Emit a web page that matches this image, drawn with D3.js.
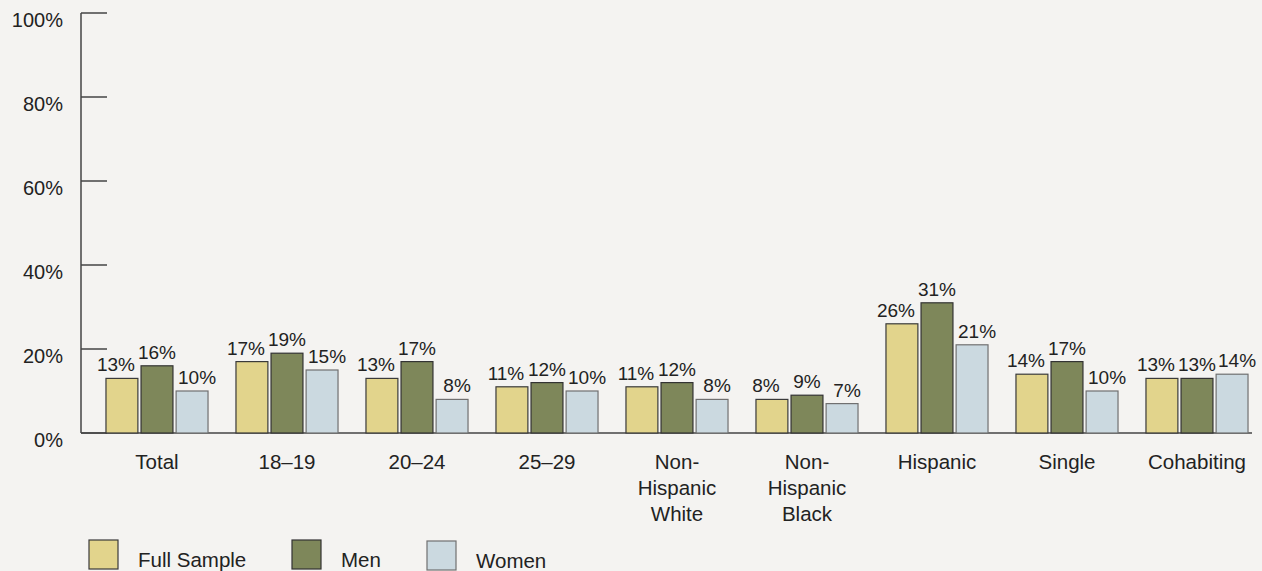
<!DOCTYPE html>
<html><head><meta charset="utf-8">
<script src="https://cdn.jsdelivr.net/npm/d3@7"></script>
<style>html,body{margin:0;padding:0;background:#f4f3f1;}svg{display:block;font-family:"Liberation Sans",Arial,Helvetica,sans-serif;}</style>
</head><body>
<script>
const categories = [["Total"],["18–19"],["20–24"],["25–29"],["Non-","Hispanic","White"],["Non-","Hispanic","Black"],["Hispanic"],["Single"],["Cohabiting"]];
const seriesNames = ["Full Sample","Men","Women"];
const fullSample = [13,17,13,11,11,8,26,14,13];
const men = [16,19,17,12,12,9,31,17,13];
const women = [10,15,8,10,8,7,21,10,14];
const yTicks = [0,20,40,60,80,100];
const colors = ["#e2d48c","#7e875a","#cbd9e0"];
const strokes = ["#3a3a3a","#333333","#707070"];

const W=1262,H=571;
const svg=d3.select("body").append("svg").attr("width",W).attr("height",H);
svg.append("rect").attr("width",W).attr("height",H).attr("fill","#f4f3f1");
const axisX=81;
const y=d3.scaleLinear().domain([0,100]).range([433,13]);
const x0=d3.scaleBand().domain(d3.range(categories.length)).range([92,1262]).paddingInner(0.215).paddingOuter(0.1075);
const x1=d3.scaleBand().domain(d3.range(3)).range([0,x0.bandwidth()]).paddingInner(0.09).paddingOuter(0);
const series=[fullSample,men,women];
const labelShift=[-6,0,5];

// y axis
svg.append("line").attr("x1",axisX).attr("x2",axisX).attr("y1",y(100)).attr("y2",y(0)).attr("stroke","#444").attr("stroke-width",1.5);
svg.append("line").attr("x1",axisX).attr("x2",1252).attr("y1",y(0)).attr("y2",y(0)).attr("stroke","#444").attr("stroke-width",1.5);
const tk=svg.append("g").selectAll("g").data(yTicks).join("g");
tk.append("line").attr("x1",axisX).attr("x2",axisX+26).attr("y1",d=>y(d)).attr("y2",d=>y(d)).attr("stroke","#444").attr("stroke-width",1.5);
tk.append("text").attr("x",63).attr("y",d=>y(d)+14).attr("text-anchor","end").attr("font-size",20).attr("fill","#222").text(d=>d+"%");

// bars
const g=svg.append("g").selectAll("g").data(categories.map((c,i)=>i)).join("g").attr("transform",i=>`translate(${x0(i)},0)`);
g.selectAll("rect").data(i=>series.map((s,k)=>({k,v:s[i]}))).join("rect")
 .attr("x",d=>x1(d.k)).attr("width",x1.bandwidth()).attr("y",d=>y(d.v)).attr("height",d=>y(0)-y(d.v))
 .attr("fill",d=>colors[d.k]).attr("stroke",d=>strokes[d.k]).attr("stroke-width",1.2);
g.selectAll("text.v").data(i=>series.map((s,k)=>({k,v:s[i]}))).join("text").attr("class","v")
 .attr("x",d=>x1(d.k)+x1.bandwidth()/2+labelShift[d.k]).attr("y",d=>y(d.v)-7).attr("text-anchor","middle").attr("font-size",19).attr("fill","#222").text(d=>d.v+"%");

// category labels
const cl=svg.append("g").selectAll("text").data(categories.map((c,i)=>({c,i}))).join("text")
 .attr("text-anchor","middle").attr("font-size",20.5).attr("fill","#222")
 .attr("transform",d=>`translate(${x0(d.i)+x0.bandwidth()/2},469)`);
cl.selectAll("tspan").data(d=>d.c).join("tspan").attr("x",0).attr("y",(d,j)=>j*26).text(d=>d);

// legend
const legX=[89,292,427];
const lg=svg.append("g").selectAll("g").data(seriesNames.map((n,k)=>({n,k}))).join("g").attr("transform",d=>`translate(${legX[d.k]},${540+(d.k===2?1:0)})`);
lg.append("rect").attr("width",29).attr("height",29).attr("fill",d=>colors[d.k]).attr("stroke",d=>strokes[d.k]).attr("stroke-width",1.2);
lg.append("text").attr("x",49).attr("y",d=>27).attr("font-size",20.5).attr("fill","#222").text(d=>d.n);
</script>
</body></html>
